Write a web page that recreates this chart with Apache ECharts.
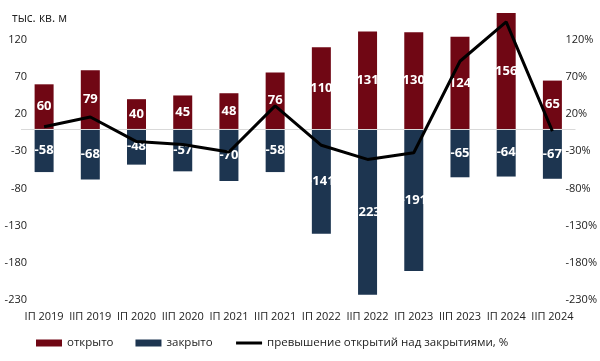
<!DOCTYPE html>
<html><head><meta charset="utf-8">
<script src="https://cdn.jsdelivr.net/npm/echarts@6/dist/echarts.min.js"></script>
<style>html,body{margin:0;padding:0;background:#fff}#c{width:600px;height:361px}</style>
</head><body><div id="c"></div>
<script>
const categories = ['IП 2019','IIП 2019','IП 2020','IIП 2020','IП 2021','IIП 2021','IП 2022','IIП 2022','IП 2023','IIП 2023','IП 2024','IIП 2024'];
const opened = [60, 79, 40, 45, 48, 76, 110, 131, 130, 124, 156, 65];
const closed = [-58, -68, -48, -57, -70, -58, -141, -223, -191, -65, -64, -67];
const excessPct = [3, 16, -17, -21, -31, 31, -22, -41, -32, 91, 144, -3];
const leftTicks = [-230, -180, -130, -80, -30, 20, 70, 120];

const font = '"Open Sans", "Noto Sans", sans-serif';
const chart = echarts.init(document.getElementById('c'));
const lbl = {show:true, position:'inside', color:'#fff', fontWeight:'bold', fontSize:13, fontFamily:font};
chart.setOption({
  animation:false,
  textStyle:{fontFamily:font},
  title:{text:'тыс. кв. м', left:7, top:8, textStyle:{fontSize:12, fontWeight:'normal', color:'#222', fontFamily:font}},
  grid:{left:21, right:22, top:2.5, bottom:61, containLabel:false},
  legend:{bottom:7, left:31, itemGap:22, itemWidth:26, itemHeight:7, textStyle:{fontSize:11.5, color:'#222', fontFamily:font},
    data:[{name:'открыто', icon:'rect'},{name:'закрыто', icon:'rect'},
          {name:'превышение открытий над закрытиями, %', itemStyle:{opacity:0}, lineStyle:{width:3, color:'#000'}}]},
  xAxis:{type:'category', data:categories, axisLine:{show:false}, axisTick:{show:false},
    axisLabel:{color:'#222', fontSize:11, margin:11, interval:0, fontFamily:font}},
  yAxis:[
    {type:'value', min:-230, max:170, interval:50, splitLine:{show:false}, axisLine:{show:false}, axisTick:{show:false},
     axisLabel:{color:'#222', fontSize:11, margin:-6, showMaxLabel:false, fontFamily:font}},
    {type:'value', min:-230, max:170, interval:50, splitLine:{show:false}, axisLine:{show:false}, axisTick:{show:false},
     axisLabel:{color:'#222', fontSize:11, margin:-10, showMaxLabel:false, formatter:'{value}%', fontFamily:font}}
  ],
  series:[
    {name:'открыто', type:'bar', stack:'s', data:opened, barWidth:19, itemStyle:{color:'#700714'}, label:lbl,
     markLine:{silent:true, symbol:'none', label:{show:false}, lineStyle:{color:'#d9d9d9', type:'solid', width:1}, data:[{yAxis:0}]}},
    {name:'закрыто', type:'bar', stack:'s', data:closed, barWidth:19, itemStyle:{color:'#1d3550'}, label:lbl},
    {name:'превышение открытий над закрытиями, %', type:'line', yAxisIndex:1, data:excessPct, symbol:'none',
     lineStyle:{color:'#000', width:3}, itemStyle:{color:'#000'}, z:5}
  ]
});
</script></body></html>
